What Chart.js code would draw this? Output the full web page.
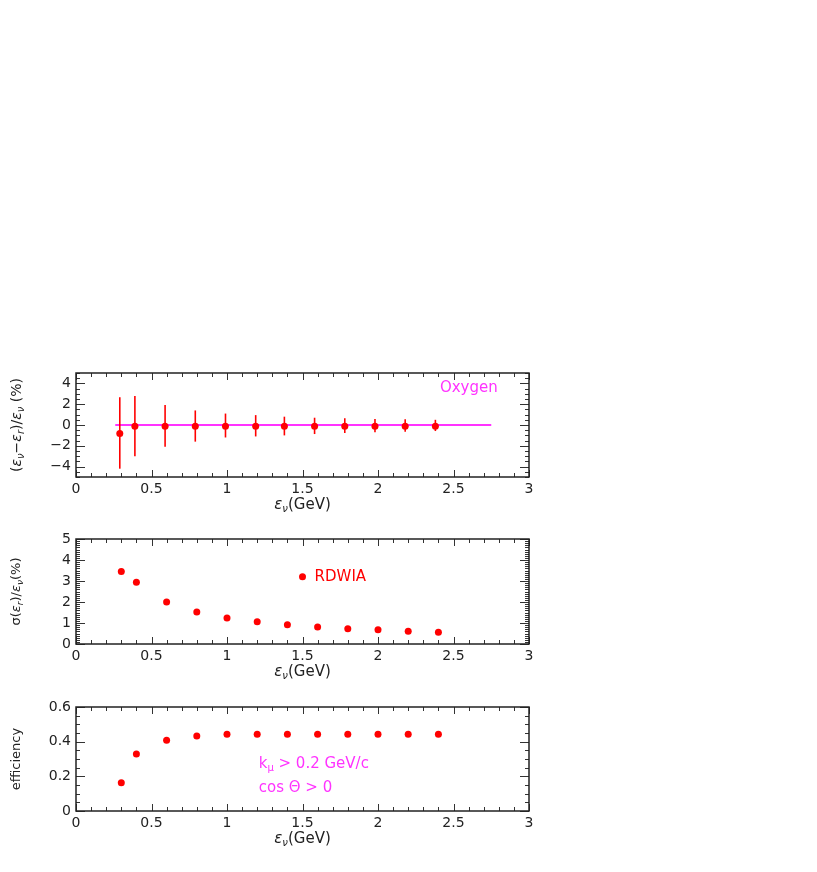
<!DOCTYPE html>
<html>
<head>
<meta charset="utf-8">
<script src="https://cdn.jsdelivr.net/npm/chart.js@4.4.1/dist/chart.umd.min.js"></script>
<style>
body { margin: 0; background: #fff; }
#wrap { position: relative; width: 817px; height: 872px; }
canvas { position: absolute; left: 0; }
</style>
</head>
<body>
<div id="wrap">
  <canvas id="shiftChart" width="817" height="185" style="top:343px"></canvas>
  <canvas id="resChart" width="817" height="185" style="top:509px"></canvas>
  <canvas id="effChart" width="817" height="185" style="top:677px"></canvas>
</div>
<script>
// x axis (all panels)
const xTicks = [0, 0.5, 1, 1.5, 2, 2.5, 3];

// top panel: (e_nu - e_r)/e_nu in %
const shiftEnergy = [0.29, 0.39, 0.59, 0.79, 0.99, 1.19, 1.38, 1.58, 1.78, 1.98, 2.18, 2.38];
const shiftMean = [-0.82, -0.11, -0.11, -0.11, -0.11, -0.11, -0.11, -0.11, -0.11, -0.11, -0.11, -0.11];
const shiftHigh = [2.67, 2.8, 1.93, 1.4, 1.1, 0.95, 0.8, 0.7, 0.65, 0.58, 0.55, 0.5];
const shiftLow = [-4.2, -3.0, -2.1, -1.6, -1.2, -1.1, -1.0, -0.87, -0.77, -0.7, -0.65, -0.58];
const zeroLineX = [0.26, 2.75];
const zeroLineY = [0, 0];
const shiftTicks = [-4, -2, 0, 2, 4];

// middle panel: sigma(e_r)/e_nu in %
const energy = [0.3, 0.4, 0.6, 0.8, 1.0, 1.2, 1.4, 1.6, 1.8, 2.0, 2.2, 2.4];
const resolution = [3.45, 2.94, 2.0, 1.52, 1.24, 1.06, 0.92, 0.81, 0.73, 0.68, 0.61, 0.56];
const resTicks = [0, 1, 2, 3, 4, 5];

// bottom panel: efficiency
const efficiency = [0.163, 0.329, 0.408, 0.432, 0.443, 0.443, 0.443, 0.443, 0.443, 0.443, 0.443, 0.443];
const effTicks = [0, 0.2, 0.4, 0.6];

const FONT = '"DejaVu Sans", sans-serif';
const RED = "#ff0000";
const MAGENTA = "#ff33ff";

Chart.defaults.font.family = FONT;
Chart.defaults.font.size = 14;
Chart.defaults.color = "#222";

// text with subscripts, parts = [text, isSub, isItalic]
function richText(ctx, parts, x, y, rotate, size) {
  ctx.save();
  ctx.translate(x, y);
  if (rotate) ctx.rotate(-Math.PI / 2);
  const sub = Math.round(size * 0.68);
  const fontOf = p => (p[2] ? "italic " : "") + (p[1] ? sub : size) + "px " + FONT;
  let w = 0;
  parts.forEach(p => { ctx.font = fontOf(p); w += ctx.measureText(p[0]).width; });
  let cx = -w / 2;
  ctx.fillStyle = "#222";
  ctx.textAlign = "left";
  ctx.textBaseline = "middle";
  parts.forEach(p => {
    ctx.font = fontOf(p);
    ctx.fillText(p[0], cx, p[1] ? 4 : 0);
    cx += ctx.measureText(p[0]).width;
  });
  ctx.restore();
}

const xTitle = [["ε", 0, 1], ["ν", 1, 1], ["(GeV)", 0]];

// frame, inward ticks, error bars, titles and labels
const paw = {
  id: "paw",
  afterDatasetsDraw(chart, args, opts) {
    const ctx = chart.ctx;
    const xs = chart.scales.x, ys = chart.scales.y;
    ctx.save();
    // error bars
    if (opts.errHigh) {
      ctx.strokeStyle = RED;
      ctx.lineWidth = 1.6;
      opts.errX.forEach((x, i) => {
        ctx.beginPath();
        ctx.moveTo(xs.getPixelForValue(x), ys.getPixelForValue(opts.errHigh[i]));
        ctx.lineTo(xs.getPixelForValue(x), ys.getPixelForValue(opts.errLow[i]));
        ctx.stroke();
      });
    }
    ctx.restore();
  },
  afterDraw(chart, args, opts) {
    const ctx = chart.ctx, a = chart.chartArea;
    const xs = chart.scales.x, ys = chart.scales.y;
    ctx.save();
    ctx.strokeStyle = "#333";
    ctx.lineWidth = 1;
    // x ticks, bottom and top
    for (let i = 0; i <= 30; i++) {
      const px = Math.round(xs.getPixelForValue(i * 0.1)) + 0.5;
      const len = i % 5 === 0 ? 7 : 4;
      ctx.beginPath();
      ctx.moveTo(px, a.bottom); ctx.lineTo(px, a.bottom - len);
      ctx.moveTo(px, a.top); ctx.lineTo(px, a.top + len);
      ctx.stroke();
    }
    // y ticks, left and right
    const n = Math.round((opts.yMax - opts.yMin) / opts.yMinor);
    for (let i = 0; i <= n; i++) {
      const v = opts.yMin + i * opts.yMinor;
      const py = Math.round(ys.getPixelForValue(v)) + 0.5;
      const major = Math.abs(v / opts.yMajor - Math.round(v / opts.yMajor)) < 1e-6;
      const len = major ? 9 : 4;
      ctx.beginPath();
      ctx.moveTo(a.left, py); ctx.lineTo(a.left + len, py);
      ctx.moveTo(a.right, py); ctx.lineTo(a.right - len, py);
      ctx.stroke();
    }
    // frame
    ctx.lineWidth = 1.5;
    ctx.strokeStyle = "#222";
    ctx.strokeRect(a.left, a.top, a.right - a.left, a.bottom - a.top);
    // labels in data coordinates
    (opts.labels || []).forEach(l => {
      if (l.dot) {
        ctx.fillStyle = l.color;
        ctx.beginPath();
        ctx.arc(xs.getPixelForValue(l.dot[0]), ys.getPixelForValue(l.dot[1]), 3.5, 0, Math.PI * 2);
        ctx.fill();
      }
      ctx.fillStyle = l.color;
      ctx.textAlign = "left";
      ctx.textBaseline = "middle";
      let cx = xs.getPixelForValue(l.x);
      const cy = ys.getPixelForValue(l.y);
      l.parts.forEach(p => {
        ctx.font = (p[1] ? "10px " : "15px ") + FONT;
        ctx.fillText(p[0], cx, p[1] ? cy + 4 : cy);
        cx += ctx.measureText(p[0]).width;
      });
    });
    ctx.restore();
    // axis titles
    richText(ctx, xTitle, (a.left + a.right) / 2, a.bottom + 28, false, 15);
    richText(ctx, opts.yTitle, 17, (a.top + a.bottom) / 2, true, opts.yTitleSize);
  }
};

function makeScales(yMin, yMax, yTicks, xHeight) {
  return {
    x: {
      type: "linear", min: 0, max: 3,
      grid: { display: false, drawTicks: false }, border: { display: false },
      afterBuildTicks: s => { s.ticks = xTicks.map(v => ({ value: v })); },
      afterFit: s => { s.height = xHeight; },
      ticks: { padding: 4, color: "#222", callback: v => String(v) }
    },
    y: {
      type: "linear", min: yMin, max: yMax,
      grid: { display: false, drawTicks: false }, border: { display: false },
      afterBuildTicks: s => { s.ticks = yTicks.map(v => ({ value: v })); },
      afterFit: s => { s.width = 76; },
      ticks: { padding: 5, color: "#222", callback: v => (v < 0 ? "\u2212" + Math.abs(v) : String(v)) }
    }
  };
}

function baseOptions(scales, pawOpts) {
  return {
    responsive: false,
    animation: false,
    layout: { padding: { top: 30, right: 288, left: 0, bottom: 0 } },
    scales: scales,
    plugins: { legend: { display: false }, tooltip: { enabled: false }, paw: pawOpts }
  };
}

const dotStyle = { pointRadius: 3.5, pointBackgroundColor: RED, pointBorderWidth: 0, showLine: false };

let shiftChart = new Chart(document.getElementById("shiftChart").getContext("2d"), {
  type: "scatter",
  data: {
    datasets: [{
      data: zeroLineX.map((x, i) => ({ x: x, y: zeroLineY[i] })),
      showLine: true, borderColor: MAGENTA, borderWidth: 2, pointRadius: 0, order: 2
    }, Object.assign({
      data: shiftEnergy.map((x, i) => ({ x: x, y: shiftMean[i] })), order: 1
    }, dotStyle)]
  },
  options: baseOptions(makeScales(-5, 5, shiftTicks, 51), {
    yMin: -5, yMax: 5, yMinor: 0.5, yMajor: 2, yTitleSize: 14,
    errX: shiftEnergy, errHigh: shiftHigh, errLow: shiftLow,
    yTitle: [["(", 0], ["ε", 0, 1], ["ν", 1, 1], ["−", 0], ["ε", 0, 1], ["r", 1, 1], [")/", 0], ["ε", 0, 1], ["ν", 1, 1], [" (%)", 0]],
    labels: [{ x: 2.41, y: 3.5, color: MAGENTA, parts: [["Oxygen", 0]] }]
  }),
  plugins: [paw]
});

let resChart = new Chart(document.getElementById("resChart").getContext("2d"), {
  type: "scatter",
  data: {
    datasets: [Object.assign({ data: energy.map((x, i) => ({ x: x, y: resolution[i] })) }, dotStyle)]
  },
  options: baseOptions(makeScales(0, 5, resTicks, 50), {
    yMin: 0, yMax: 5, yMinor: 0.1, yMajor: 1, yTitleSize: 13,
    yTitle: [["σ(", 0], ["ε", 0, 1], ["r", 1, 1], [")/", 0], ["ε", 0, 1], ["ν", 1, 1], ["(%)", 0]],
    labels: [{ x: 1.58, y: 3.2, dot: [1.5, 3.2], color: RED, parts: [["RDWIA", 0]] }]
  }),
  plugins: [paw]
});

let effChart = new Chart(document.getElementById("effChart").getContext("2d"), {
  type: "scatter",
  data: {
    datasets: [Object.assign({ data: energy.map((x, i) => ({ x: x, y: efficiency[i] })) }, dotStyle)]
  },
  options: baseOptions(makeScales(0, 0.6, effTicks, 51), {
    yMin: 0, yMax: 0.6, yMinor: 0.05, yMajor: 0.2, yTitleSize: 13,
    yTitle: [["efficiency", 0]],
    labels: [
      { x: 1.21, y: 0.27, color: MAGENTA, parts: [["k", 0], ["μ", 1], [" > 0.2 GeV/c", 0]] },
      { x: 1.21, y: 0.13, color: MAGENTA, parts: [["cos Θ > 0", 0]] }
    ]
  }),
  plugins: [paw]
});
</script>
</body>
</html>
